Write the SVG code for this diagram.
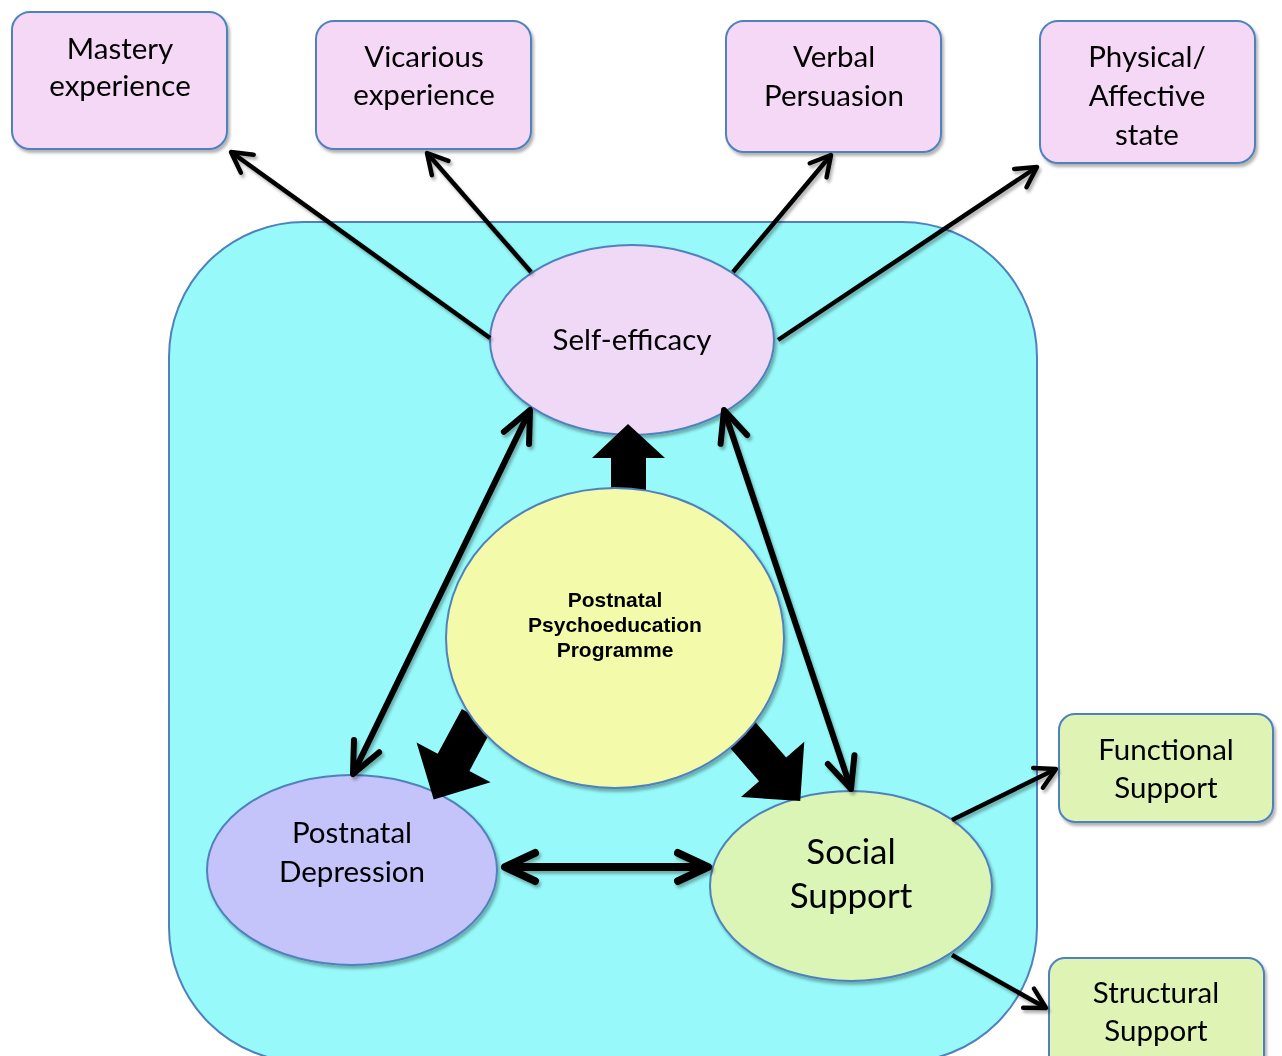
<svg xmlns="http://www.w3.org/2000/svg" width="1282" height="1056" viewBox="0 0 1282 1056">
<defs>
<style>
.box{stroke:#4F81BD;stroke-width:2}
.pink{fill:#F5D8F5}
.green{fill:#DFF3B5}
.t{font-family:Lato,"Liberation Sans",sans-serif;font-size:29.5px;fill:#000;text-anchor:middle}
.tb{font-family:"Liberation Sans",Arial,sans-serif;font-weight:bold;font-size:21px;fill:#000;text-anchor:middle}
.ln{fill:none;stroke:#000;stroke-linecap:butt}
</style>
<filter id="sh" x="-10%" y="-10%" width="130%" height="130%">
<feDropShadow dx="2" dy="3" stdDeviation="1.5" flood-color="#000" flood-opacity="0.3"/>
</filter>
<marker id="ms" viewBox="-30 -20 40 40" refX="0" refY="0" markerWidth="40" markerHeight="40" markerUnits="userSpaceOnUse" orient="auto-start-reverse" overflow="visible">
<path d="M-20 -11 L0 0 L-20 11" fill="none" stroke="#000" stroke-width="4.5" stroke-linecap="round" stroke-linejoin="round"/>
</marker>
<marker id="ml" viewBox="-40 -20 50 40" refX="0" refY="0" markerWidth="50" markerHeight="40" markerUnits="userSpaceOnUse" orient="auto-start-reverse" overflow="visible">
<path d="M-31 -14 L0 0 L-31 14" fill="none" stroke="#000" stroke-width="6" stroke-linecap="round" stroke-linejoin="round"/>
</marker>
<marker id="mh" viewBox="-40 -20 50 40" refX="0" refY="0" markerWidth="50" markerHeight="40" markerUnits="userSpaceOnUse" orient="auto-start-reverse" overflow="visible">
<path d="M-30 -14 L0 0 L-30 14" fill="none" stroke="#000" stroke-width="8" stroke-linecap="round" stroke-linejoin="round"/>
</marker>
<path id="blk" d="M-18 12 L-18 -39 L-42 -39 L0 -81 L42 -39 L18 -39 L18 12 Z" fill="#000"/>
</defs>

<g id="container">
<rect x="169" y="222" width="868" height="840" rx="135" ry="135" fill="#97F9F9" stroke="#4F81BD" stroke-width="2"/>
</g>

<g id="mastery" filter="url(#sh)">
<rect class="box pink" x="12" y="12" width="215" height="137" rx="18"/>
<text class="t" x="120" y="59">Mastery</text>
<text class="t" x="120" y="96">experience</text>
</g>
<g id="vicarious" filter="url(#sh)">
<rect class="box pink" x="316" y="21" width="215" height="128" rx="18"/>
<text class="t" x="424" y="67">Vicarious</text>
<text class="t" x="424" y="105">experience</text>
</g>
<g id="verbal" filter="url(#sh)">
<rect class="box pink" x="726" y="21" width="215" height="131" rx="18"/>
<text class="t" x="834" y="67">Verbal</text>
<text class="t" x="834" y="106">Persuasion</text>
</g>
<g id="physical" filter="url(#sh)">
<rect class="box pink" x="1040" y="21" width="215" height="142" rx="18"/>
<text class="t" x="1147" y="67">Physical/</text>
<text class="t" x="1147" y="106">Affective</text>
<text class="t" x="1147" y="145">state</text>
</g>

<g id="self-efficacy" filter="url(#sh)">
<ellipse cx="632" cy="340" rx="142" ry="95" fill="#F0D9F6" stroke="#4F81BD" stroke-width="2"/>
<text class="t" x="632" y="350">Self-efficacy</text>
</g>

<g id="depression" filter="url(#sh)">
<ellipse cx="352" cy="870" rx="145" ry="95" fill="#C4C3FA" stroke="#4F81BD" stroke-width="2"/>
<text class="t" x="352" y="843">Postnatal</text>
<text class="t" x="352" y="882">Depression</text>
</g>

<g id="social-support" filter="url(#sh)">
<ellipse cx="851" cy="886" rx="141" ry="95" fill="#DAF5B6" stroke="#4F81BD" stroke-width="2"/>
<text class="t" x="851" y="864" style="font-size:35px">Social</text>
<text class="t" x="851" y="908" style="font-size:35px">Support</text>
</g>

<g id="block-arrows">
<polygon points="611,495 611,458 592,458 628,424 665,458 646,458 646,495" fill="#000"/>
<use href="#blk" transform="translate(472,728) rotate(208.2)"/>
<use href="#blk" transform="translate(747,740) rotate(138.9)"/>
</g>

<g id="programme" filter="url(#sh)">
<ellipse cx="615" cy="638" rx="169" ry="150" fill="#F3FBAB" stroke="#4F81BD" stroke-width="2"/>
<text class="tb" x="615" y="607">Postnatal</text>
<text class="tb" x="615" y="632">Psychoeducation</text>
<text class="tb" x="615" y="657">Programme</text>
</g>

<g id="functional" filter="url(#sh)">
<rect class="box green" x="1059" y="714" width="214" height="108" rx="16"/>
<text class="t" x="1166" y="760">Functional</text>
<text class="t" x="1166" y="798">Support</text>
</g>
<g id="structural" filter="url(#sh)">
<rect class="box green" x="1049" y="958" width="215" height="120" rx="16"/>
<text class="t" x="1156" y="1003">Structural</text>
<text class="t" x="1156" y="1041">Support</text>
</g>

<g id="connectors" filter="url(#sh)">
<path class="ln" d="M490 338 L231 152" stroke-width="4.5" marker-end="url(#ms)"/>
<path class="ln" d="M531 272 L427 153" stroke-width="4.5" marker-end="url(#ms)"/>
<path class="ln" d="M733 272 L831 155" stroke-width="4.5" marker-end="url(#ms)"/>
<path class="ln" d="M778 340 L1037 167" stroke-width="4.5" marker-end="url(#ms)"/>
<path class="ln" d="M530 410 L353 774" stroke-width="6" marker-start="url(#ml)" marker-end="url(#ml)"/>
<path class="ln" d="M724 410 L851 789" stroke-width="6" marker-start="url(#ml)" marker-end="url(#ml)"/>
<path class="ln" d="M505 867 L708 867" stroke-width="8" marker-start="url(#mh)" marker-end="url(#mh)"/>
<path class="ln" d="M952 820 L1056 769" stroke-width="4.5" marker-end="url(#ms)"/>
<path class="ln" d="M952 955 L1046 1008" stroke-width="4.5" marker-end="url(#ms)"/>
</g>
</svg>
